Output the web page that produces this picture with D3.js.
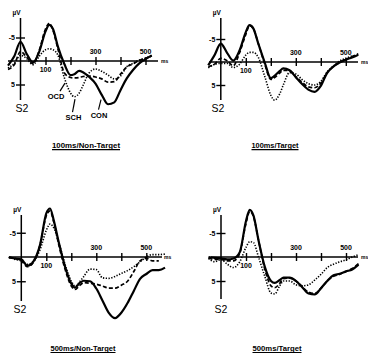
<!DOCTYPE html>
<html><head><meta charset="utf-8">
<script src="https://cdn.jsdelivr.net/npm/d3@7"></script>
<style>body{margin:0;background:#fff} svg{display:block}</style>
</head><body><svg id="c" width="368" height="353"></svg>
<script>
// time points (ms after S2)
const times = [-50,-25,0,25,50,75,100,115,130,150,175,200,215,235,250,275,300,325,350,375,400,425,450,475,500,525,550,575];

// values in µV (negative plotted upward)
const p1CON = [1.0,-1.0,-4.1,-1.5,0.3,-2.0,-6.3,-7.7,-6.8,-3.0,0.6,3.0,2.8,2.1,2.4,3.4,4.8,7.2,9.2,8.8,6.2,3.7,1.9,0.5,-0.4,-1.2,null,null];
const p1OCD = [1.8,0.8,-2.0,-0.8,0.6,-2.3,-6.8,-8.0,-6.5,-2.5,2.5,3.5,3.6,3.5,3.3,3.2,3.4,3.8,4.5,4.4,2.8,1.3,0.6,-0.1,-0.6,-1.1,null,null];
const p1SCH = [1.5,0.5,-1.2,-0.5,0.8,-1.0,-2.4,-2.6,-2.4,-1.2,3.5,6.8,7.6,6.8,5.2,2.5,1.7,2.2,3.0,3.8,3.2,1.2,0.5,-0.2,-0.6,-1.0,null,null];

const p2CON = [0.7,-1.5,-4.0,-2.0,-0.3,-2.5,-6.5,-8.0,-7.3,-4.0,0.0,3.5,3.0,2.0,1.4,1.8,3.3,4.8,6.0,6.5,5.2,2.4,1.0,0.1,-0.5,-1.0,-1.6,null];
const p2OCD = [1.0,0.5,-0.8,-0.3,0.8,-2.0,-6.0,-7.9,-7.3,-4.0,0.3,3.8,3.4,2.4,1.8,1.9,3.2,4.4,5.4,5.6,4.6,2.3,1.0,0.1,-0.6,-1.2,-1.8,null];
const p2SCH = [1.3,0.5,0.3,0.3,1.2,0.5,-1.5,-2.1,-2.1,-1.0,3.0,7.2,8.3,7.0,5.0,2.3,2.6,3.8,4.7,5.0,4.2,2.2,0.9,-0.2,-0.8,-1.3,null,null];

const p3CON = [0.0,0.3,0.5,1.8,0.8,-2.5,-9.0,-10.0,-7.5,-3.0,2.0,5.5,6.3,5.3,4.9,5.0,6.5,9.0,11.5,12.6,11.5,9.5,7.0,4.5,3.5,2.7,2.7,2.2];
const p3OCD = [0.2,0.3,0.8,2.0,1.0,-2.5,-8.5,-9.5,-7.2,-2.5,2.5,6.0,6.7,5.8,5.3,5.4,5.6,6.0,6.4,6.4,5.8,5.0,3.0,0.8,0.3,0.8,0.8,null];
const p3SCH = [0.0,0.5,0.8,1.5,0.8,-1.5,-5.5,-6.8,-6.0,-3.0,1.5,5.0,6.0,5.0,4.0,2.5,2.6,4.3,4.4,4.0,3.4,2.8,2.0,1.0,0.0,-0.5,-0.5,-0.6];

const p4CON = [0.0,0.2,0.3,0.5,0.3,-1.0,-7.5,-9.8,-8.6,-3.5,2.0,5.0,5.4,4.8,4.3,4.3,5.0,6.3,7.6,7.8,6.5,5.0,3.8,3.5,3.0,2.6,1.6,null];
const p4OCD = [0.2,0.5,0.5,0.8,0.8,-0.8,-7.0,-9.5,-8.4,-3.5,2.5,6.0,6.4,5.5,4.5,4.4,5.0,6.2,7.3,7.6,6.5,5.0,4.0,3.6,3.0,2.4,1.4,null];
const p4SCH = [0.3,1.0,0.5,1.5,2.2,1.0,-2.0,-3.2,-3.0,0.0,4.0,7.5,7.7,6.0,5.0,5.0,5.8,6.0,5.8,4.8,3.6,2.2,1.5,1.0,0.6,0.0,-0.5,null];

const panelTitles = ["100ms/Non-Target","100ms/Target","500ms/Non-Target","500ms/Target"];
const groups = ["CON","SCH","OCD"];
const xTickValues = [100,200,300,400,500];
const xLabelValues = [100,300,500];
const yTickValues = [-5,5];
// annotation anchors in panel 1
const annoGroups = ["OCD","SCH","CON"];
const annoMs = [178,218,322];
const annoUV = [4.5,7.9,8.0];

const panelData = [
  {CON:p1CON, OCD:p1OCD, SCH:p1SCH},
  {CON:p2CON, OCD:p2OCD, SCH:p2SCH},
  {CON:p3CON, OCD:p3OCD, SCH:p3SCH},
  {CON:p4CON, OCD:p4OCD, SCH:p4SCH}
];

// layout (pixels)
const layout = [
  {x0:20.5, y0:61,  k:4.7,  ax:[8,158],   ay:[18,100],  ms:[161,63],  s2:[22,112],  title:[86,148],  tw:68},
  {x0:220.8, y0:62, k:4.6,  ax:[209,358], ay:[18,100],  ms:[361,64],  s2:[218,112], title:[275,148], tw:47},
  {x0:21.3, y0:257, k:4.85, ax:[10,162],  ay:[215,301], ms:[164,259], s2:[20,313],  title:[83,351],  tw:65},
  {x0:221,  y0:257, k:4.8,  ax:[211,358], ay:[215,299], ms:[361,259], s2:[221,313], title:[277,351], tw:49}
];

const styles = {
  CON:{w:2.2, dash:null},
  OCD:{w:1.7, dash:"4,2.2"},
  SCH:{w:1.6, dash:"1.3,1.5"}
};

const svg = d3.select("#c");
svg.append("rect").attr("width",368).attr("height",353).attr("fill","#fff");
const FONT = "'Liberation Sans Narrow','Liberation Sans',Arial,sans-serif";

layout.forEach((L, i) => {
  const g = svg.append("g");
  const x = d3.scaleLinear().domain([0,500]).range([L.x0, L.x0 + 125]);
  const y = d3.scaleLinear().domain([-5,5]).range([L.y0 - 5*L.k, L.y0 + 5*L.k]);

  g.append("line").attr("x1",L.ax[0]).attr("x2",L.ax[1]).attr("y1",L.y0).attr("y2",L.y0)
    .attr("stroke","#000").attr("stroke-width",1.4);
  const xa = d3.axisBottom(x).tickValues(xTickValues).tickSize(8).tickSizeOuter(0).tickFormat("");
  const xg = g.append("g").attr("transform",`translate(0,${L.y0-4})`).call(xa);
  xg.select(".domain").remove();
  xg.selectAll(".tick line").attr("stroke","#000").attr("stroke-width",1.4);

  g.append("line").attr("x1",L.x0).attr("x2",L.x0).attr("y1",L.ay[0]).attr("y2",L.ay[1])
    .attr("stroke","#000").attr("stroke-width",1.5);
  const ya = d3.axisLeft(y).tickValues(yTickValues).tickSize(9).tickSizeOuter(0).tickPadding(1)
    .tickFormat(d => d < 0 ? "-5" : "5");
  const yg = g.append("g").attr("transform",`translate(${L.x0+4.5},0)`).call(ya);
  yg.select(".domain").remove();
  yg.selectAll(".tick line").attr("stroke","#000").attr("stroke-width",1.4);
  yg.selectAll(".tick text").attr("font-family",FONT).attr("font-size",7).attr("font-weight","bold").attr("fill","#000");

  g.append("text").attr("x",L.x0-8).attr("y",L.ay[0]-3).text("µV")
    .attr("font-family",FONT).attr("font-size",6.5).attr("font-weight","bold");

  xLabelValues.forEach(v => {
    g.append("text").attr("x",x(v)).attr("y", v===100 ? L.y0+11 : L.y0-7)
      .attr("text-anchor","middle").text(v)
      .attr("font-family",FONT).attr("font-size",7).attr("font-weight","bold");
  });
  g.append("text").attr("x",L.ms[0]).attr("y",L.ms[1]).text("ms")
    .attr("font-family",FONT).attr("font-size",5).attr("font-weight","bold");

  g.append("text").attr("x",L.s2[0]).attr("y",L.s2[1]).attr("text-anchor","middle").text("S2")
    .attr("font-family",FONT).attr("font-size",10.5);

  g.append("text").attr("x",L.title[0]).attr("y",L.title[1]).attr("text-anchor","middle")
    .attr("textLength",L.tw).attr("lengthAdjust","spacingAndGlyphs")
    .text(panelTitles[i]).attr("font-family",FONT).attr("font-size",8).attr("font-weight","bold");
  g.append("line").attr("x1",L.title[0]-L.tw/2).attr("x2",L.title[0]+L.tw/2)
    .attr("y1",L.title[1]+1.6).attr("y2",L.title[1]+1.6).attr("stroke","#000").attr("stroke-width",1.3);

  const line = d3.line()
    .defined(d => d[1] !== null)
    .x(d => x(d[0])).y(d => y(d[1]))
    .curve(d3.curveMonotoneX);
  ["SCH","OCD","CON"].forEach(grp => {
    const pts = times.map((t,j) => [t, panelData[i][grp][j]]);
    const p = g.append("path").attr("d", line(pts)).attr("fill","none")
      .attr("stroke","#000").attr("stroke-width",styles[grp].w)
      .attr("stroke-linejoin","round");
    if (styles[grp].dash) p.attr("stroke-dasharray",styles[grp].dash);
  });

  if (i === 0) {
    const labelOff = {OCD:[-9,15], SCH:[-1.5,20], CON:[-2,17]};
    annoGroups.forEach((grp, j) => {
      const ex = x(annoMs[j]), ey = y(annoUV[j]);
      const off = labelOff[grp];
      const lx = ex + off[0], ly = ey + off[1];
      g.append("line").attr("x1",ex).attr("y1",ey+1).attr("x2",grp==="OCD"? ex-5 : ex-2.5).attr("y2",ly-6)
        .attr("stroke","#000").attr("stroke-width",1.2);
      g.append("text").attr("x",lx).attr("y",ly+2).attr("text-anchor","middle").text(grp)
        .attr("font-family",FONT).attr("font-size",7.5).attr("font-weight","bold");
    });
  }
});
</script>
</body></html>
